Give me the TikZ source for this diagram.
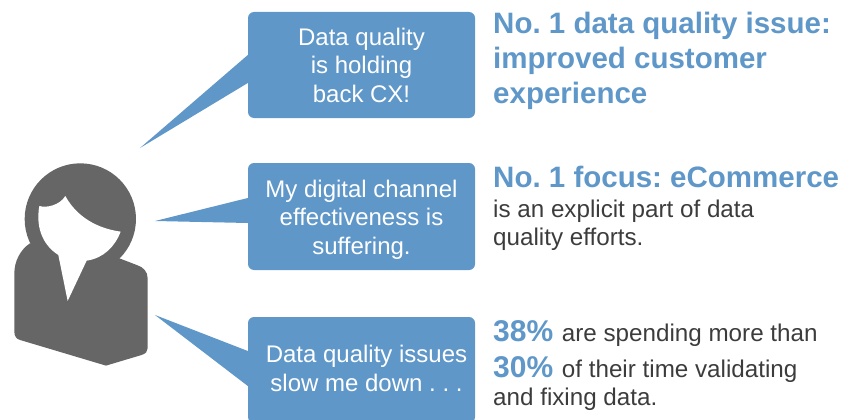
\documentclass[tikz,border=0pt]{standalone}
\usepackage{fontspec}
\setmainfont{Liberation Sans}
\frenchspacing
\definecolor{cxblue}{HTML}{5F97C9}
\definecolor{cxgray}{HTML}{666666}
\definecolor{cxtext}{HTML}{3C3C3C}
\tikzset{
  bubble/.style={fill=cxblue,rounded corners=6pt,minimum width=227pt,inner sep=0pt,text=white,align=center,font=\fontsize{24}{28.5}\selectfont},
  tail/.style={fill=cxblue,draw=none},
  head/.style={anchor=north west,inner sep=0pt,align=left,font=\bfseries\fontsize{29.5}{35}\selectfont,text=cxblue},
  note/.style={anchor=north west,inner sep=0pt,align=left,text=cxtext,font=\fontsize{24.2}{28.5}\selectfont},
}
\newcommand{\bignum}[1]{{\bfseries\fontsize{30}{28.5}\selectfont\color{cxblue}#1}\hspace{2pt}}
\begin{document}
\begin{tikzpicture}[x=1pt,y=-1pt]
\useasboundingbox (0,0) rectangle (843,420);
% person
\begin{scope}[x=0.3333pt,y=-0.3333pt,shift={(0,420)}]
\fill[cxgray] (90,310) .. controls (60,330) and (43,365) .. (43,400) -- (43,575)
  .. controls (43,590) and (50,597) .. (60,600) -- (318,677) -- (425,645)
  .. controls (437,641) and (443,635) .. (443,625) -- (443,415)
  .. controls (443,395) and (430,381) .. (410,375) -- (358,355) -- cycle;
\fill[cxgray] (241,237) circle[radius=167];
\fill[white] (118,198) .. controls (140,205) and (180,195) .. (196,168)
  .. controls (230,230) and (290,265) .. (362,275)
  .. controls (345,320) and (310,355) .. (260,362) -- (203,483) -- (175,345)
  .. controls (135,320) and (105,270) .. (118,198) -- cycle;
\end{scope}
% bubbles
\node[bubble,minimum height=106pt] (b1) at (361.5,65) {Data quality\\is holding\\back CX!};
\node[bubble,minimum height=107pt] (b2) at (361.5,216.5) {\rule{0pt}{23.5pt}My digital channel\\effectiveness is\\suffering.};
\node[bubble,minimum height=106pt] (b3) at (361.5,370) {\hspace*{10pt}Data quality issues\\\hspace*{10pt}slow me down . . .\rule[-3pt]{0pt}{0pt}};
% tails
\coordinate (t1) at (140,148);
\coordinate (t2) at (155,221);
\coordinate (t3) at (155,315);
\fill[tail] (t1) -- (b1.west |- 0,55) -- ([xshift=8pt]b1.west |- 0,55) -- ([xshift=8pt]b1.west |- 0,83) -- (b1.west |- 0,83) -- cycle;
\fill[tail] (t2) -- (b2.west |- 0,198) -- ([xshift=8pt]b2.west |- 0,198) -- ([xshift=8pt]b2.west |- 0,223) -- (b2.west |- 0,223) -- cycle;
\fill[tail] (t3) -- (b3.west |- 0,351) -- ([xshift=8pt]b3.west |- 0,351) -- ([xshift=8pt]b3.west |- 0,386) -- (b3.west |- 0,386) -- cycle;
% right text
\node[head] (h1) at (493,11.5) {No. 1 data quality issue:\\improved customer\\experience};
\node[head] (h2) at (493,165.5) {No. 1 focus: eCommerce};
\node[note] (n2) at (493,199.5) {is an explicit part of data\\quality efforts.};
\node[note] (n3) at (493,320.5) {\bignum{38\%} are spending more than\\[7pt]\bignum{30\%} of their time validating\\and fixing data.};
\end{tikzpicture}
\end{document}
